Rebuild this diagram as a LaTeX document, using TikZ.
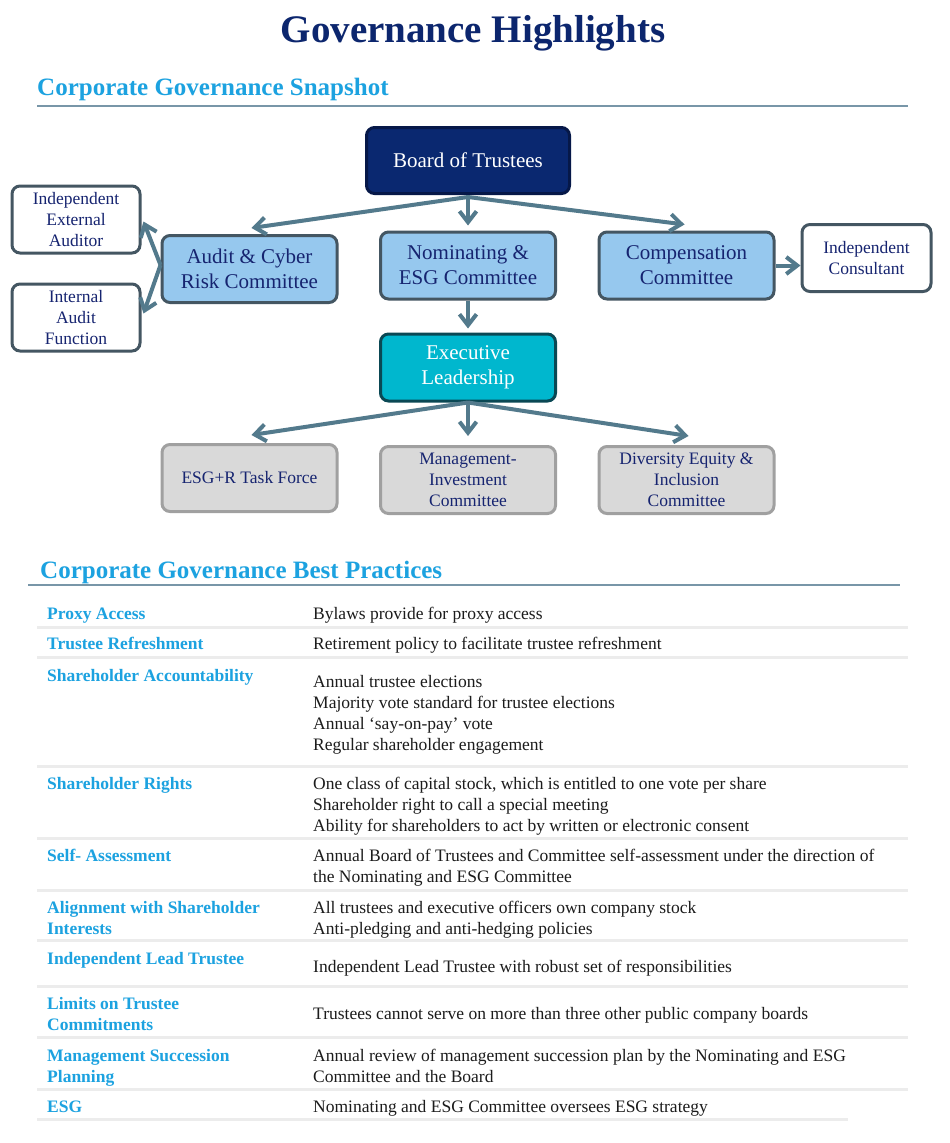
\documentclass[tikz,border=0pt]{standalone}
\usepackage{fontspec}
\setmainfont{Liberation Serif}
\usetikzlibrary{arrows.meta}
\definecolor{navy}{RGB}{12,38,110}
\definecolor{secblue}{RGB}{28,162,224}
\definecolor{rulec}{RGB}{120,150,168}
\definecolor{boardfill}{RGB}{10,40,112}
\definecolor{boardline}{RGB}{6,24,72}
\definecolor{lbfill}{RGB}{150,200,238}
\definecolor{boxline}{RGB}{68,86,98}
\definecolor{tealfill}{RGB}{0,183,206}
\definecolor{tealline}{RGB}{10,72,84}
\definecolor{grayfill}{RGB}{217,217,217}
\definecolor{grayline}{RGB}{160,160,160}
\definecolor{arrowc}{RGB}{83,122,140}
\definecolor{boxtext}{RGB}{22,36,112}
\definecolor{sepc}{RGB}{236,236,236}
\definecolor{bodytext}{RGB}{28,28,28}
\tikzset{
  basebox/.style={rounded corners=8pt, line width=3pt, align=center, inner sep=0pt},
  bigtxt/.style={font=\fontsize{21}{25}\selectfont},
  smalltxt/.style={font=\fontsize{17.5}{21}\selectfont},
  boardbox/.style={basebox, bigtxt, fill=boardfill, draw=boardline, text=white, minimum width=203pt, minimum height=66pt},
  lbbox/.style={basebox, bigtxt, fill=lbfill, draw=boxline, text=boxtext, minimum width=175pt, minimum height=67pt},
  tealbox/.style={basebox, bigtxt, fill=tealfill, draw=tealline, text=white, minimum width=175pt, minimum height=67pt},
  whitebox/.style={basebox, smalltxt, fill=white, draw=boxline, text=boxtext, minimum width=128pt, minimum height=67pt},
  graybox/.style={basebox, smalltxt, fill=grayfill, draw=grayline, text=boxtext, minimum width=175pt, minimum height=67pt},
  arr/.style={draw=arrowc, line width=4pt, -{Straight Barb[length=11pt,width=17pt]}},
  lab/.style={anchor=base west, inner sep=0pt, text=secblue, font=\fontsize{17.5}{21}\selectfont\bfseries},
  body/.style={anchor=base west, inner sep=0pt, text=bodytext, font=\fontsize{17.5}{21}\selectfont},
  sep/.style={draw=sepc, line width=3pt},
  heading/.style={anchor=base west, inner sep=0pt, text=secblue, font=\fontsize{25}{30}\selectfont\bfseries}
}
\begin{document}
\begin{tikzpicture}[x=1pt,y=-1pt]
\useasboundingbox (0,0) rectangle (950,1143);
\fill[white] (0,0) rectangle (950,1143);

% Titles
\node[anchor=base, inner sep=0pt, text=navy, font=\fontsize{39}{44}\selectfont\bfseries] (title) at (473,42) {Governance Highlights};
\node[heading] (h1) at (37,95) {Corporate Governance Snapshot};
\draw[draw=rulec, line width=2pt] (37,106) coordinate (h1a) -- (908,106) coordinate (h1b);

% Org chart
\node[boardbox] (board) at (468,160.5) {Board of Trustees};
\node[whitebox] (ext) at (76,219.5) {Independent\\External\\Auditor};
\node[whitebox] (int) at (76,317.5) {Internal\\Audit\\Function};
\node[lbbox] (audit) at (249.5,269) {Audit \& Cyber\\Risk Committee};
\node[lbbox] (nom) at (468,265.5) {Nominating \&\\ESG Committee};
\node[lbbox] (comp) at (686.5,265.5) {Compensation\\Committee};
\node[whitebox, minimum width=129pt] (cons) at (866.5,258) {Independent\\Consultant};
\node[tealbox] (exec) at (468,367.5) {Executive\\Leadership};
\node[graybox] (esgr) at (249.5,478) {ESG+R Task Force};
\node[graybox] (mgmt) at (468,480) {Management-\\Investment\\Committee};
\node[graybox] (dei) at (686.5,480) {Diversity Equity \&\\Inclusion\\Committee};

\draw[arr] ([yshift=-2pt]board.south) -- ([xshift=2pt,yshift=6pt]audit.north);
\draw[arr] ([yshift=-2pt]board.south) -- ([yshift=5pt]nom.north);
\draw[arr] ([yshift=-2pt]board.south) -- ([xshift=-2pt,yshift=6pt]comp.north);
\draw[arr] ([yshift=4pt]audit.west) -- ([xshift=2pt,yshift=-2pt]ext.east);
\draw[arr] ([yshift=4pt]audit.west) -- ([xshift=2pt,yshift=4pt]int.east);
\draw[arr] (comp.east) -- (comp.east -| cons.west);
\draw[arr] (nom.south) -- ([yshift=4pt]exec.north);
\draw[arr] (exec.south) -- ([xshift=2pt,yshift=8pt]esgr.north);
\draw[arr] (exec.south) -- ([yshift=9pt]mgmt.north);
\draw[arr] (exec.south) -- ([xshift=2pt,yshift=9pt]dei.north);

% Best practices
\node[heading] (h2) at (40,578) {Corporate Governance Best Practices};
\draw[draw=rulec, line width=2pt] (28,585) coordinate (h2a) -- (900,585) coordinate (h2b);

\foreach \yy in {627,657,766,838,890,940,986,1037,1089}
  \draw[sep] (37,\yy) -- (908,\yy);
\draw[sep] (37,1119) -- (848,1119);

\node[lab] (l1) at (47,619) {Proxy Access};
\node[lab] (l2) at (47,649) {Trustee Refreshment};
\node[lab] (l3) at (47,681) {Shareholder Accountability};
\node[lab] (l4) at (47,789) {Shareholder Rights};
\node[lab] (l5) at (47,861) {Self- Assessment};
\node[lab] (l6a) at (47,913) {Alignment with Shareholder};
\node[lab] (l6b) at (47,934) {Interests};
\node[lab] (l7) at (47,964) {Independent Lead Trustee};
\node[lab] (l8a) at (47,1009) {Limits on Trustee};
\node[lab] (l8b) at (47,1030) {Commitments};
\node[lab] (l9a) at (47,1061) {Management Succession};
\node[lab] (l9b) at (47,1082) {Planning};
\node[lab] (l10) at (47,1112) {ESG};

\node[body] (r1) at (313,619) {Bylaws provide for proxy access};
\node[body] (r2) at (313,649) {Retirement policy to facilitate trustee refreshment};
\node[body] (r3a) at (313,687) {Annual trustee elections};
\node[body] (r3b) at (313,708) {Majority vote standard for trustee elections};
\node[body] (r3c) at (313,729) {Annual ‘say-on-pay’ vote};
\node[body] (r3d) at (313,750) {Regular shareholder engagement};
\node[body] (r4a) at (313,789) {One class of capital stock, which is entitled to one vote per share};
\node[body] (r4b) at (313,810) {Shareholder right to call a special meeting};
\node[body] (r4c) at (313,831) {Ability for shareholders to act by written or electronic consent};
\node[body] (r5a) at (313,861) {Annual Board of Trustees and Committee self-assessment under the direction of};
\node[body] (r5b) at (313,882) {the Nominating and ESG Committee};
\node[body] (r6a) at (313,913) {All trustees and executive officers own company stock};
\node[body] (r6b) at (313,934) {Anti-pledging and anti-hedging policies};
\node[body] (r7) at (313,972) {Independent Lead Trustee with robust set of responsibilities};
\node[body] (r8) at (313,1019) {Trustees cannot serve on more than three other public company boards};
\node[body] (r9a) at (313,1061) {Annual review of management succession plan by the Nominating and ESG};
\node[body] (r9b) at (313,1082) {Committee and the Board};
\node[body] (r10) at (313,1112) {Nominating and ESG Committee oversees ESG strategy};
\end{tikzpicture}
\end{document}
